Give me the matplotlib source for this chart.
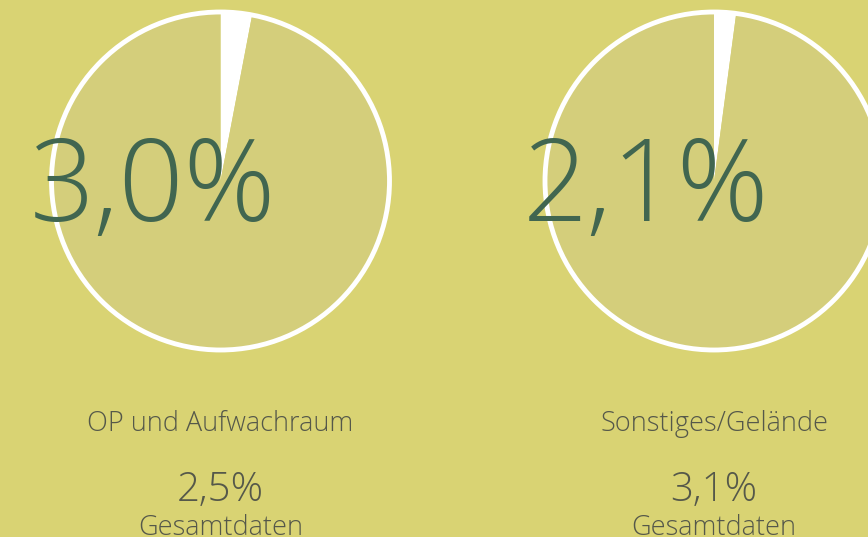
import matplotlib.pyplot as plt

# Daten
bereiche = ["OP und Aufwachraum", "Sonstiges/Gelände"]
anteile = [3.0, 2.1]
gesamt = [2.5, 3.1]
gesamt_label = "Gesamtdaten"

HINTERGRUND = "#d9d373"
KREIS = "#d4ce7b"
GRUEN = "#416650"
GRAU = "#55584a"

W, H = 868, 537
fig = plt.figure(figsize=(W / 100, H / 100), dpi=100, facecolor=HINTERGRUND)
ax = fig.add_axes([0, 0, 1, 1])

zentren_x = [220.5, 714]
zentrum_y = H - 181
radius = 169

def fmt(v):
    return f"{v:.1f}".replace(".", ",") + "%"

for i, name in enumerate(bereiche):
    cx = zentren_x[i]
    ax.pie([anteile[i], 100 - anteile[i]], colors=["white", KREIS],
           startangle=90, counterclock=False, center=(cx, zentrum_y),
           radius=radius, frame=True, wedgeprops=dict(linewidth=0))
    ax.add_patch(plt.Circle((cx, zentrum_y), radius, fill=False,
                            edgecolor="white", linewidth=3.5))
    ax.text(cx - 191, H - 192, fmt(anteile[i]), ha="left", va="center",
            fontsize=82, color=GRUEN, family="Open Sans", fontweight="light")
    ax.text(cx, H - 424, name, ha="center", va="center", fontsize=19.5,
            color=GRAU, family="Open Sans", fontweight="light")
    ax.text(cx, H - 491, fmt(gesamt[i]), ha="center", va="center", fontsize=29,
            color=GRAU, family="Open Sans", fontweight="light")
    ax.text(cx, H - 528, gesamt_label, ha="center", va="center", fontsize=19.5,
            color=GRAU, family="Open Sans", fontweight="light")

ax.set_xlim(0, W)
ax.set_ylim(0, H)
ax.set_aspect("equal")
ax.axis("off")

fig.savefig("out.png", dpi=100, facecolor=HINTERGRUND)
